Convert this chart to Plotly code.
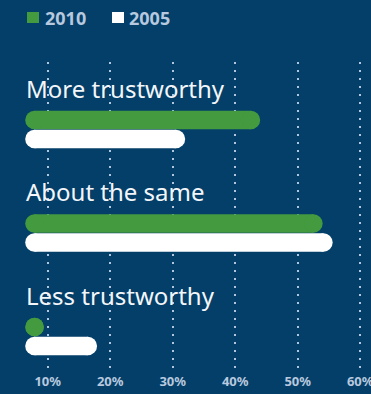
import plotly.graph_objects as go

categories = ["More trustworthy", "About the same", "Less trustworthy"]
series_names = ["2010", "2005"]
values_2010 = [44.0, 54.0, 9.4]
values_2005 = [32.0, 55.6, 17.9]
tick_values = [10, 20, 30, 40, 50, 60]
tick_labels = ["10%", "20%", "30%", "40%", "50%", "60%"]

BG = "#033f68"
GREEN = "#439a3f"
WHITE = "#ffffff"
TICK_COLOR = "#b7c8df"
GRID_COLOR = "#b3c6e0"
LABEL_COLOR = "#f3f6fa"
FONT = "Noto Sans"

W, H = 371, 394
M_T, M_B = 62, 22
PLOT_H = H - M_T - M_B
X_RANGE = [2.37, 61.73]
px_per_unit = W / (X_RANGE[1] - X_RANGE[0])
BAR_PX = 18.5
r_units = (BAR_PX / 2) / px_per_unit
BAR_START = 6.4  # left extreme of every bar (axis units)

# vertical layout in plot-pixel units (0 = top of plot area)
ROW0 = 58
ROW_STEP = 103.5
SERIES_STEP = 19
LABEL_OFFSET = -32


def paper_y(px):
    return (M_T + PLOT_H - px) / PLOT_H


def paper_x(px):
    return px / W


fig = go.Figure()
series_vals = [values_2010, values_2005]
series_cols = [GREEN, WHITE]
for s, (name, vals, col) in enumerate(zip(series_names, series_vals, series_cols)):
    for i, v in enumerate(vals):
        yc = ROW0 + i * ROW_STEP + s * SERIES_STEP
        x0 = BAR_START + r_units
        x1 = max(v - r_units, x0)
        fig.add_trace(go.Scatter(
            x=[x0, x1], y=[yc, yc], mode="lines+markers", name=name,
            line=dict(color=col, width=BAR_PX),
            marker=dict(color=col, size=BAR_PX, line=dict(width=0)),
            showlegend=False, hoverinfo="skip",
        ))

for i, c in enumerate(categories):
    fig.add_annotation(
        x=BAR_START - 0.25, y=ROW0 + i * ROW_STEP + LABEL_OFFSET,
        xref="x", yref="y", text=c, showarrow=False,
        xanchor="left", yanchor="middle",
        font=dict(family=FONT, size=24, color=LABEL_COLOR),
    )

# legend (squares + labels) in the top margin
legend_items = [(27, 46, GREEN, series_names[0]), (112, 130, WHITE, series_names[1])]
for sq_x, tx, col, name in legend_items:
    fig.add_shape(
        type="rect", xref="paper", yref="paper",
        x0=paper_x(sq_x), x1=paper_x(sq_x + 12),
        y0=paper_y(23), y1=paper_y(12),
        fillcolor=col, line=dict(width=0),
    )
    fig.add_annotation(
        x=paper_x(tx - 3), y=paper_y(18), xref="paper", yref="paper",
        xanchor="left", yanchor="middle", showarrow=False,
        text=f"<b>{name}</b>",
        font=dict(family=FONT, size=18, color=TICK_COLOR),
    )

fig.update_layout(
    width=W, height=H,
    margin=dict(l=0, r=0, t=M_T, b=M_B, pad=0, autoexpand=False),
    paper_bgcolor=BG, plot_bgcolor=BG,
    showlegend=False,
    xaxis=dict(
        range=X_RANGE, tickvals=tick_values, ticktext=tick_labels,
        showgrid=True, gridcolor=GRID_COLOR, gridwidth=2, griddash="2px,6px",
        zeroline=False, showline=False, ticks="",
        ticklabeloverflow="allow", automargin=False,
        tickfont=dict(family=FONT, size=13, color=TICK_COLOR, weight="bold"),
        fixedrange=True,
    ),
    yaxis=dict(
        range=[PLOT_H, 0], showgrid=False, zeroline=False,
        showticklabels=False, showline=False, fixedrange=True,
        automargin=False,
    ),
)

fig.write_html(
    "out.html",
    config={"displayModeBar": False},
    post_script="document.body.style.margin='0';document.body.style.overflow='hidden';",
)
